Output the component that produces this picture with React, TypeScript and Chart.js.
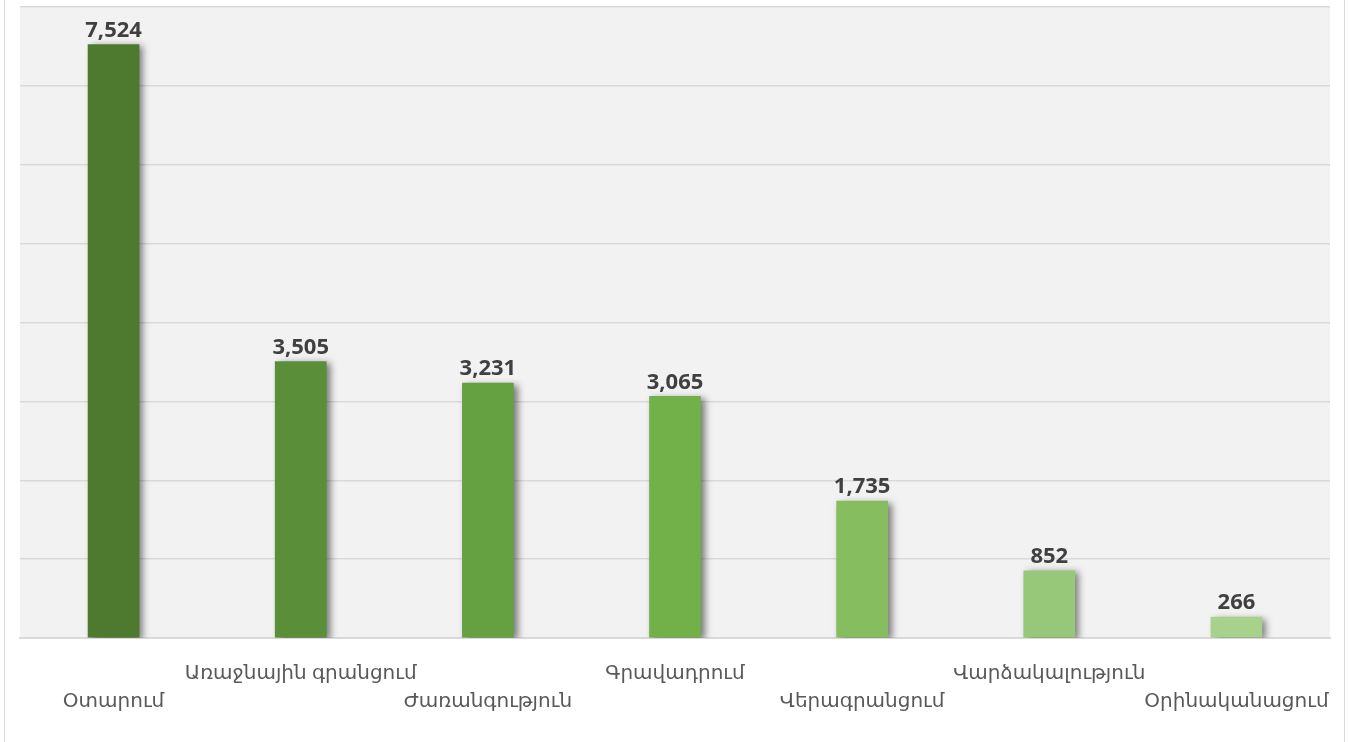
import React, { useEffect, useRef } from "react";
import { Chart, registerables } from "chart.js";

Chart.register(...registerables);

const categories: string[] = [
  "Օտարում",
  "Առաջնային գրանցում",
  "Ժառանգություն",
  "Գրավադրում",
  "Վերագրանցում",
  "Վարձակալություն",
  "Օրինականացում",
];

const values: number[] = [7524, 3505, 3231, 3065, 1735, 852, 266];

const barColors: string[] = [
  "#4e7a30",
  "#5a8e38",
  "#65a041",
  "#72b04a",
  "#86be5f",
  "#97c779",
  "#a8d28c",
];

const yMax = 8000;
const yStep = 1000;

const FONT = "'Open Sans', 'DejaVu Sans', sans-serif";

// Alternate category labels between two rows so long names do not collide.
const staggeredLabels = categories.map((c, i) => (i % 2 === 0 ? ["", c] : [c, ""]));

const plotBackground = {
  id: "plotBackground",
  beforeDraw(chart: any) {
    const { ctx, chartArea } = chart;
    const { width, height } = chart;
    ctx.save();
    ctx.fillStyle = "#ffffff";
    ctx.fillRect(0, 0, width, height);
    ctx.fillStyle = "#f2f2f2";
    ctx.fillRect(chartArea.left, chartArea.top, chartArea.right - chartArea.left, chartArea.bottom - chartArea.top);
    // outer frame lines
    ctx.strokeStyle = "#d9d9d9";
    ctx.lineWidth = 1;
    ctx.beginPath();
    ctx.moveTo(4.5, 0);
    ctx.lineTo(4.5, height);
    ctx.moveTo(width - 4.5, 0);
    ctx.lineTo(width - 4.5, height);
    ctx.stroke();
    ctx.restore();
  },
};

const barShadow = {
  id: "barShadow",
  beforeDatasetsDraw(chart: any) {
    const ctx = chart.ctx;
    ctx.save();
    ctx.shadowColor = "rgba(0,0,0,0.5)";
    ctx.shadowBlur = 7;
    ctx.shadowOffsetX = 4;
    ctx.shadowOffsetY = 2;
  },
  afterDatasetsDraw(chart: any) {
    chart.ctx.restore();
  },
};

const valueLabels = {
  id: "valueLabels",
  afterDatasetsDraw(chart: any) {
    const { ctx } = chart;
    const meta = chart.getDatasetMeta(0);
    ctx.save();
    ctx.font = `bold 22px ${FONT}`;
    ctx.fillStyle = "#404040";
    ctx.textAlign = "center";
    ctx.textBaseline = "bottom";
    meta.data.forEach((bar: any, i: number) => {
      const v = chart.data.datasets[0].data[i] as number;
      ctx.fillText(v.toLocaleString("en-US"), bar.x, bar.y - 3);
    });
    ctx.restore();
  },
};

export default function App() {
  const canvasRef = useRef<HTMLCanvasElement | null>(null);

  useEffect(() => {
    if (!canvasRef.current) return;
    const chart = new Chart(canvasRef.current, {
      type: "bar",
      data: {
        labels: staggeredLabels,
        datasets: [
          {
            data: values,
            backgroundColor: barColors,
            barThickness: 51,
          },
        ],
      },
      options: {
        animation: false,
        responsive: false,
        maintainAspectRatio: false,
        layout: { padding: { left: 20, right: 19, top: 7, bottom: 0 } },
        plugins: {
          legend: { display: false },
          tooltip: { enabled: false },
        },
        scales: {
          x: {
            grid: { display: false, drawTicks: false },
            border: { display: true, color: "#d9d9d9", width: 2 },
            ticks: {
              autoSkip: false,
              maxRotation: 0,
              minRotation: 0,
              padding: 21,
              color: "#595959",
              font: { family: FONT, size: 20, lineHeight: 1.4 },
            },
            afterFit(scale: any) {
              scale.height = 104;
              scale.paddingLeft = 0;
              scale.paddingRight = 0;
            },
          },
          y: {
            min: 0,
            max: yMax,
            ticks: { display: false, stepSize: yStep },
            grid: { color: "#d9d9d9", lineWidth: 1.5, drawTicks: false },
            border: { display: false },
          },
        },
      },
      plugins: [plotBackground, barShadow, valueLabels],
    });
    return () => chart.destroy();
  }, []);

  return (
    <div style={{ position: "fixed", left: 0, top: 0, width: 1349, height: 742, background: "#fff" }}>
      <canvas ref={canvasRef} width={1349} height={742} style={{ display: "block" }} />
    </div>
  );
}
